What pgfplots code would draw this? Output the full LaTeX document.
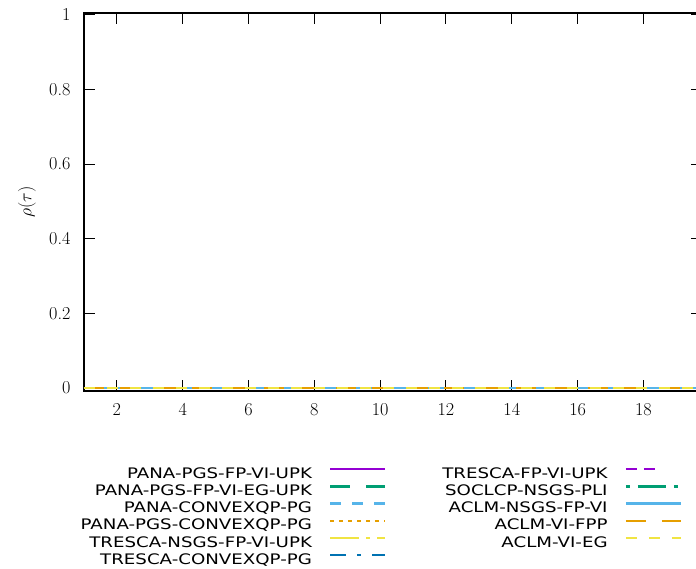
\RequirePackage{fix-cm}
\documentclass[border=0pt]{standalone}
\usepackage{pgfplots}
\pgfplotsset{compat=1.18}
\usepackage{fontspec}
\newfontfamily\legfont[FakeStretch=1.255]{DejaVu Sans}
\definecolor{gpPurple}{HTML}{9400D3}
\definecolor{gpGreen}{HTML}{009E73}
\definecolor{gpSky}{HTML}{56B4E9}
\definecolor{gpOrange}{HTML}{E69F00}
\definecolor{gpYellow}{HTML}{F0E442}
\definecolor{gpBlue}{HTML}{0072B2}
\begin{document}
\begin{tikzpicture}
\begin{axis}[
  scale only axis, width=618bp, height=378bp,
  xmin=1, xmax=19.78, ymin=-0.008, ymax=1.005,
  xtick={2,4,...,18}, ytick={0,0.2,0.4,0.6,0.8,1},
  /pgf/number format/assume math mode=true,
  tick align=inside, major tick length=11bp,
  axis line style={line width=1.1bp},
  every tick/.style={black, line width=1bp},
  ticklabel style={font=\fontsize{18.2bp}{21bp}\selectfont},
  yticklabel style={xshift=-10bp},
  xticklabel style={yshift=-8.5bp},
  ylabel={$\rho(\tau)$},
  ylabel style={font=\fontsize{17.8bp}{21bp}\selectfont, at={(axis description cs:0,0.5)}, anchor=center, yshift=57bp},
  legend plot pos=right, legend columns=2,
  legend cell align=right,
  legend image code/.code={\draw[#1] (0bp,5.3bp) -- (55bp,5.3bp);},
  legend style={at={(axis description cs:0,0)}, anchor=north east, xshift=598bp, yshift=-76.6bp,
    draw=none, fill=none, inner sep=0pt, outer sep=0pt,
    font={\legfont\fontsize{14.5bp}{17bp}\selectfont},
    row sep=3.5bp, column sep=17bp,
    nodes={inner sep=0pt, text height=10.7bp, text depth=3bp},
    /tikz/every even column/.append style={column sep=56bp}},
]
% data (all curves at zero over the whole range)
\addplot[forget plot, gpPurple, line width=2.4bp] coordinates {(1,0) (20,0)};
\addplot[forget plot, gpGreen, line width=2.4bp, dash pattern=on 20bp off 16bp] coordinates {(1,0) (20,0)};
\addplot[forget plot, gpSky, line width=2.4bp, dash pattern=on 11bp off 11bp] coordinates {(1,0) (20,0)};
\addplot[forget plot, gpOrange, line width=2.4bp, dash pattern=on 4bp off 5bp] coordinates {(1,0) (20,0)};
\addplot[forget plot, gpYellow, line width=2.4bp, dash pattern=on 29bp off 7bp on 4bp off 7bp] coordinates {(1,0) (20,0)};
\addplot[forget plot, gpBlue, line width=2.4bp, dash pattern=on 16bp off 11bp on 4bp off 11bp] coordinates {(1,0) (20,0)};
\addplot[forget plot, gpPurple, line width=2.4bp, dash pattern=on 11bp off 7bp on 11bp off 30bp] coordinates {(1,0) (20,0)};
\addplot[forget plot, gpGreen, line width=2.4bp, dash pattern=on 4bp off 8bp on 28bp off 8bp] coordinates {(1,0) (20,0)};
\addplot[forget plot, gpSky, line width=2.4bp] coordinates {(1,0) (20,0)};
\addplot[forget plot, gpOrange, line width=2.4bp, dash pattern=on 20bp off 16bp] coordinates {(1,0) (20,0)};
\addplot[forget plot, gpYellow, line width=2.4bp, dash pattern=on 11bp off 12bp] coordinates {(1,0) (20,0)};
% legend (two columns, filled column-wise as in the original)
\addlegendimage{gpPurple, line width=2.4bp}
\addlegendentry{PANA-PGS-FP-VI-UPK}
\addlegendimage{gpPurple, line width=2.4bp, dash pattern=on 11bp off 7bp on 11bp off 30bp}
\addlegendentry{TRESCA-FP-VI-UPK}
\addlegendimage{gpGreen, line width=2.4bp, dash pattern=on 20bp off 16bp}
\addlegendentry{PANA-PGS-FP-VI-EG-UPK}
\addlegendimage{gpGreen, line width=2.4bp, dash pattern=on 4bp off 8bp on 28bp off 8bp}
\addlegendentry{SOCLCP-NSGS-PLI}
\addlegendimage{gpSky, line width=2.4bp, dash pattern=on 11bp off 11bp}
\addlegendentry{PANA-CONVEXQP-PG}
\addlegendimage{gpSky, line width=2.4bp}
\addlegendentry{ACLM-NSGS-FP-VI}
\addlegendimage{gpOrange, line width=2.4bp, dash pattern=on 4bp off 5bp}
\addlegendentry{PANA-PGS-CONVEXQP-PG}
\addlegendimage{gpOrange, line width=2.4bp, dash pattern=on 20bp off 16bp}
\addlegendentry{ACLM-VI-FPP}
\addlegendimage{gpYellow, line width=2.4bp, dash pattern=on 29bp off 7bp on 4bp off 7bp}
\addlegendentry{TRESCA-NSGS-FP-VI-UPK}
\addlegendimage{gpYellow, line width=2.4bp, dash pattern=on 11bp off 12bp}
\addlegendentry{ACLM-VI-EG}
\addlegendimage{gpBlue, line width=2.4bp, dash pattern=on 16bp off 11bp on 4bp off 11bp}
\addlegendentry{TRESCA-CONVEXQP-PG}
\end{axis}
\pgfresetboundingbox
\path[use as bounding box] (-84bp,-178bp) rectangle (612bp,391bp);
\end{tikzpicture}
\end{document}
